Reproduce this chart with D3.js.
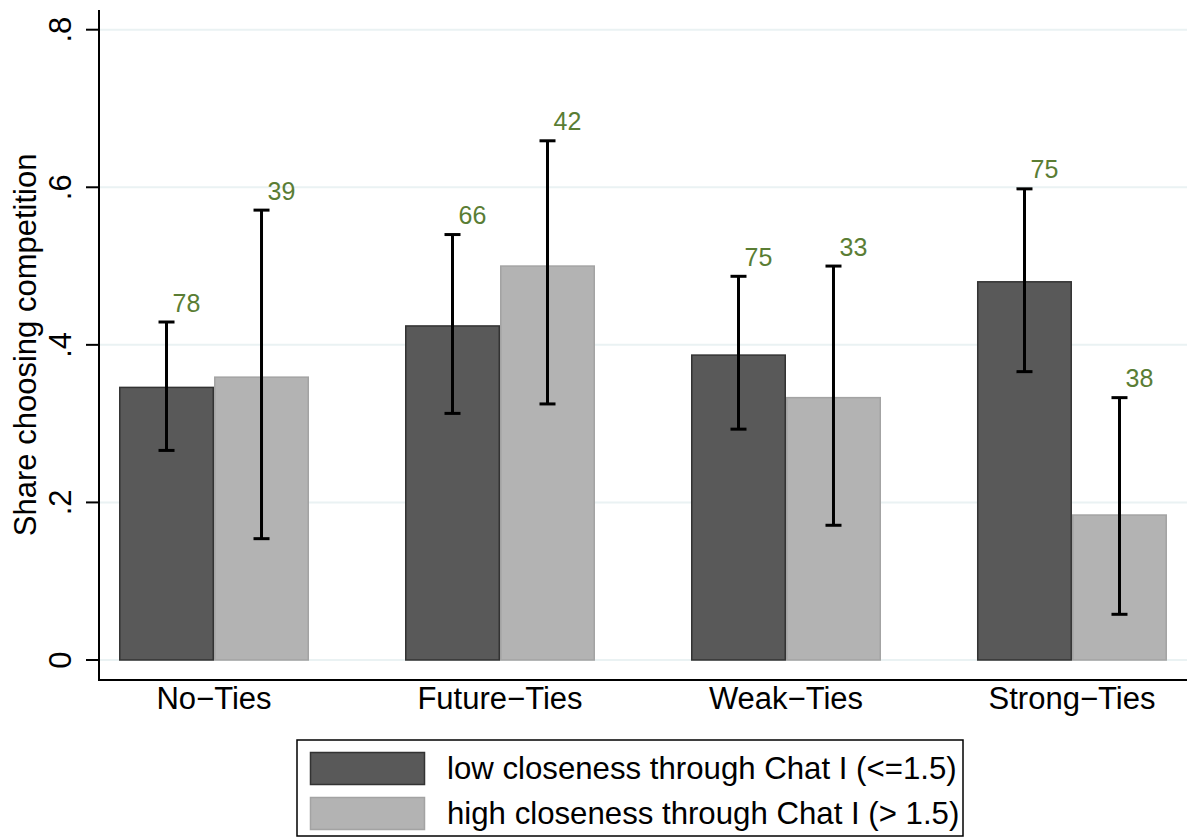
<!DOCTYPE html>
<html>
<head>
<meta charset="utf-8">
<script src="https://cdn.jsdelivr.net/npm/d3@7"></script>
<style>
  html, body { margin: 0; padding: 0; background: #fff; }
  svg { display: block; font-family: "Liberation Sans", Arial, Helvetica, sans-serif; }
</style>
</head>
<body>
<svg id="chart" width="1187" height="838"></svg>
<script>
// Treatment groups on the x axis
const categories = ["No\u2212Ties", "Future\u2212Ties", "Weak\u2212Ties", "Strong\u2212Ties"];
// Closeness subgroups (legend order)
const seriesNames = ["low closeness through Chat I (<=1.5)", "high closeness through Chat I (> 1.5)"];
// Share choosing competition, by group
const lowMean  = [0.346, 0.424, 0.387, 0.480];
const highMean = [0.359, 0.500, 0.333, 0.184];
// Confidence interval bounds
const lowLo  = [0.266, 0.313, 0.293, 0.366];
const lowHi  = [0.429, 0.540, 0.487, 0.598];
const highLo = [0.154, 0.325, 0.171, 0.058];
const highHi = [0.571, 0.659, 0.500, 0.333];
// Number of observations shown above each bar
const lowN  = [78, 66, 75, 75];
const highN = [39, 42, 33, 38];
// Y axis ticks
const yTicks = [0, 0.2, 0.4, 0.6, 0.8];
const yTickLabels = ["0", ".2", ".4", ".6", ".8"];

const svg = d3.select("#chart");
const plot = { left: 99, right: 1187, top: 10, bottom: 680 };

const x0 = d3.scaleBand()
  .domain(categories)
  .range([plot.left, plot.right])
  .paddingInner(96 / 286)
  .paddingOuter(0.07);
const x1 = d3.scaleBand()
  .domain([0, 1])
  .range([0, x0.bandwidth()]);
const y = d3.scaleLinear().domain([0, 0.8]).range([660, 29.7]);

const fills = ["#595959", "#b3b3b3"];
const strokes = ["#333333", "#a3a3a3"];

// Horizontal grid lines
svg.append("g").selectAll("line")
  .data(yTicks).join("line")
  .attr("x1", plot.left).attr("x2", plot.right)
  .attr("y1", d => y(d)).attr("y2", d => y(d))
  .attr("stroke", "#eaf2f3").attr("stroke-width", 2);

const rows = categories.map((c, i) => [
  { cat: c, s: 0, v: lowMean[i], lo: lowLo[i], hi: lowHi[i], n: lowN[i] },
  { cat: c, s: 1, v: highMean[i], lo: highLo[i], hi: highHi[i], n: highN[i] }
]).flat();

const cx = d => x0(d.cat) + x1(d.s) + x1.bandwidth() / 2;

// Bars
svg.append("g").selectAll("rect")
  .data(rows).join("rect")
  .attr("x", d => x0(d.cat) + x1(d.s) + 0.75)
  .attr("width", x1.bandwidth() - 1.5)
  .attr("y", d => y(d.v))
  .attr("height", d => y(0) - y(d.v))
  .attr("fill", d => fills[d.s])
  .attr("stroke", d => strokes[d.s])
  .attr("stroke-width", 1.5);

// Error bars
const eb = svg.append("g").attr("stroke", "#000").attr("stroke-width", 3);
eb.selectAll("line.v").data(rows).join("line").attr("class", "v")
  .attr("x1", cx).attr("x2", cx)
  .attr("y1", d => y(d.lo)).attr("y2", d => y(d.hi));
eb.selectAll("line.t").data(rows).join("line").attr("class", "t")
  .attr("x1", d => cx(d) - 8).attr("x2", d => cx(d) + 8)
  .attr("y1", d => y(d.hi)).attr("y2", d => y(d.hi));
eb.selectAll("line.b").data(rows).join("line").attr("class", "b")
  .attr("x1", d => cx(d) - 8).attr("x2", d => cx(d) + 8)
  .attr("y1", d => y(d.lo)).attr("y2", d => y(d.lo));

// Observation counts
svg.append("g").selectAll("text")
  .data(rows).join("text")
  .attr("x", d => cx(d) + 20)
  .attr("y", d => y(d.hi) - 10.5)
  .attr("text-anchor", "middle")
  .attr("font-size", 25)
  .attr("fill", "#5a7d34")
  .text(d => d.n);

// Y axis
const yAxis = svg.append("g").attr("transform", `translate(${plot.left},0)`);
yAxis.append("line")
  .attr("x1", 0).attr("x2", 0)
  .attr("y1", plot.top).attr("y2", plot.bottom)
  .attr("stroke", "#000").attr("stroke-width", 2);
yAxis.selectAll("line.tick").data(yTicks).join("line").attr("class", "tick")
  .attr("x1", -13).attr("x2", 0)
  .attr("y1", d => y(d)).attr("y2", d => y(d))
  .attr("stroke", "#000").attr("stroke-width", 2);
yAxis.selectAll("text").data(yTicks).join("text")
  .attr("transform", d => `translate(-28.5,${y(d)}) rotate(-90)`)
  .attr("text-anchor", "middle")
  .attr("font-size", 31)
  .text((d, i) => yTickLabels[i]);

// Y axis title
svg.append("text")
  .attr("transform", `translate(36,${(y(0) + y(0.8)) / 2}) rotate(-90)`)
  .attr("text-anchor", "middle")
  .attr("font-size", 31)
  .text("Share choosing competition");

// X axis
svg.append("line")
  .attr("x1", plot.left - 1).attr("x2", plot.right)
  .attr("y1", plot.bottom).attr("y2", plot.bottom)
  .attr("stroke", "#000").attr("stroke-width", 2);
svg.append("g").selectAll("text")
  .data(categories).join("text")
  .attr("x", d => x0(d) + x0.bandwidth() / 2)
  .attr("y", 709)
  .attr("text-anchor", "middle")
  .attr("font-size", 31)
  .text(d => d);

// Legend
const lg = svg.append("g");
lg.append("rect")
  .attr("x", 297).attr("y", 740).attr("width", 666).attr("height", 96)
  .attr("fill", "#fff").attr("stroke", "#000").attr("stroke-width", 1.5);
const items = lg.selectAll("g.item").data(seriesNames).join("g")
  .attr("class", "item")
  .attr("transform", (d, i) => `translate(0,${i * 45})`);
items.append("rect")
  .attr("x", 310.5).attr("y", 752.5).attr("width", 114).attr("height", 32)
  .attr("fill", (d, i) => fills[i])
  .attr("stroke", (d, i) => strokes[i]).attr("stroke-width", 1.5);
items.append("text")
  .attr("x", 447).attr("y", 779)
  .attr("font-size", 31.2)
  .text(d => d);
</script>
</body>
</html>
